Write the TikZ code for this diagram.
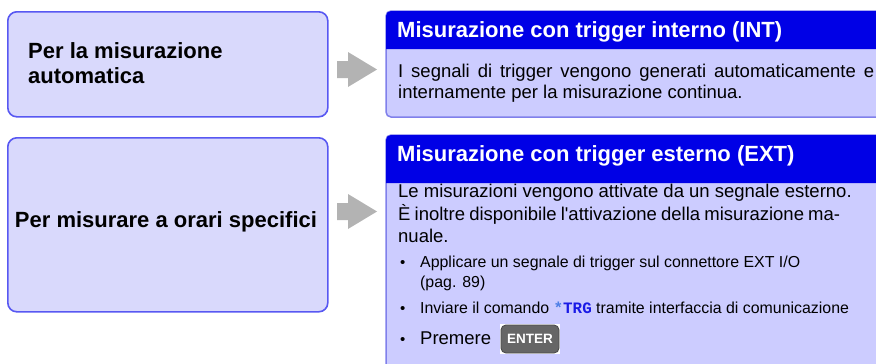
\documentclass[tikz,border=0pt]{standalone}
\usepackage{fontspec}
\newfontfamily\arial{Liberation Sans}
\newfontfamily\codefont{Liberation Mono}
\setmainfont{Liberation Sans}
\definecolor{leftfill}{HTML}{D9D9FC}
\definecolor{leftborder}{HTML}{5858F2}
\definecolor{bodyfill}{HTML}{CCCCFF}
\definecolor{bodyborder}{HTML}{8080EB}
\definecolor{hdrblue}{HTML}{0000E6}
\definecolor{arrowgray}{HTML}{B3B3B3}
\definecolor{keygray}{HTML}{666666}
\definecolor{cmdblue}{HTML}{1A1AE6}
\definecolor{starblue}{HTML}{4D7FE6}
\tikzset{
  leftbox/.style={draw=leftborder, line width=1.6pt, fill=leftfill, rounded corners=9pt, anchor=north west, inner sep=0pt},
  hdrtext/.style={anchor=base west, inner sep=0pt, text=white, font=\arial\bfseries\fontsize{22}{24}\selectfont},
  bodytext/.style={anchor=base west, inner sep=0pt, font=\arial\fontsize{18.5}{22}\selectfont},
  smalltext/.style={anchor=base west, inner sep=0pt, font=\arial\fontsize{15.9}{19}\selectfont},
  lefttext/.style={anchor=base west, inner sep=0pt, font=\arial\bfseries\fontsize{22}{26}\selectfont},
  bul/.style={anchor=base west, inner sep=0pt, font=\arial\fontsize{15}{18}\selectfont},
  blockarrow/.style={fill=arrowgray},
}
\begin{document}
\begin{tikzpicture}[x=1pt,y=-1pt]
\useasboundingbox (0,0) rectangle (876,364);
\clip (0,0) rectangle (876,364);
% left boxes
\node[leftbox, minimum width=320pt, minimum height=105pt] (L1) at (7,11) {};
\node[leftbox, minimum width=320pt, minimum height=174pt] (L2) at (7,137) {};
\node[lefttext] (L1a) at (28,58) {Per la misurazione};
\node[lefttext] (L1b) at (28,83) {automatica};
\node[lefttext, anchor=base] (L2a) at (166,227) {Per misurare a orari specifici};
% block arrows
\fill[blockarrow] (337,61) -- (348,61) -- (348,52) -- (377,69.5) -- (348,87) -- (348,78) -- (337,78) -- cycle;
\fill[blockarrow] (337,203) -- (348,203) -- (348,194) -- (377,211.5) -- (348,229) -- (348,220) -- (337,220) -- cycle;
% right box 1
\draw[draw=bodyborder, line width=1.5pt, fill=bodyfill, rounded corners=5pt] (386,11) rectangle (900,117);
\fill[hdrblue] (386,49) {[rounded corners=5pt] -- (386,11) -- (900,11)} -- (900,49) -- cycle;
\node[hdrtext] (H1) at (397,37) {Misurazione con trigger interno (INT)};
\node[bodytext] (B1a) at (398,77) {\makebox[476pt][s]{I segnali di trigger vengono generati automaticamente e}};
\node[bodytext] (B1b) at (398,98) {internamente per la misurazione continua.};
% right box 2
\draw[draw=bodyborder, line width=1.5pt, fill=bodyfill, rounded corners=5pt] (386,135) rectangle (900,400);
\fill[hdrblue] (386,183) {[rounded corners=5pt] -- (386,135) -- (900,135)} -- (900,183) -- cycle;
\node[hdrtext] (H2) at (397,161) {Misurazione con trigger esterno (EXT)};
\node[bodytext] (B2a) at (398,197) {Le misurazioni vengono attivate da un segnale esterno.};
\node[bodytext] (B2b) at (398,220) {\makebox[442pt][s]{È inoltre disponibile l'attivazione della misurazione ma-}};
\node[bodytext] (B2c) at (398,242) {nuale.};
\node[bul] (d1) at (400,267) {•};
\node[smalltext] (t1) at (420,267) {Applicare un segnale di trigger sul connettore EXT I/O};
\node[smalltext] (t1b) at (420,287) {(pag. 89)};
\node[bul] (d2) at (400,313) {•};
\node[smalltext] (t2) at (420,313) {Inviare il comando {\codefont\bfseries\color{starblue}*\color{cmdblue}TRG} tramite interfaccia di comunicazione};
\node[bul] (d3) at (400,344) {•};
\node[bodytext] (t3) at (420,344) {Premere};
% ENTER key
\fill[white] (500,324) rectangle (560,354);
\node[draw=keygray!75!black, line width=0.9pt, fill=keygray, rounded corners=5pt, minimum width=58pt, minimum height=28pt, inner sep=0pt, text=white, font=\arial\bfseries\fontsize{13.5}{15}\selectfont] (key) at (530,339) {ENTER};
\end{tikzpicture}
\end{document}
